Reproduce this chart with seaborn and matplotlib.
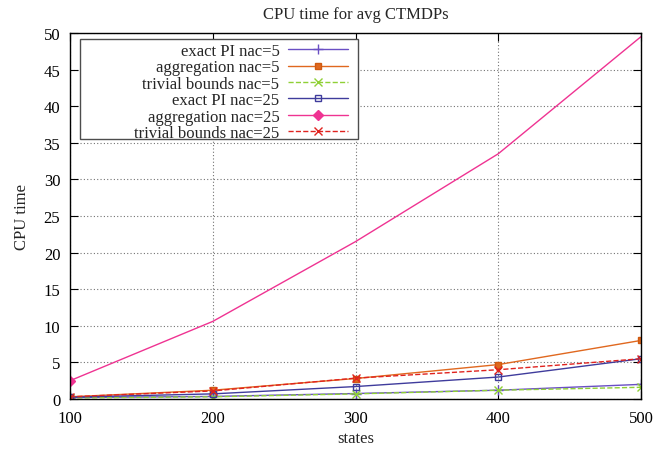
import pandas as pd
import seaborn as sns
import matplotlib.pyplot as plt
from matplotlib.patches import Rectangle

# data
states = [100, 200, 300, 400, 500]
exact_pi_5 = [0.2, 0.35, 0.75, 1.2, 2.0]
aggregation_5 = [0.3, 1.2, 2.8, 4.7, 8.0]
trivial_5 = [0.15, 0.3, 0.7, 1.2, 1.6]
exact_pi_25 = [0.25, 0.7, 1.7, 3.0, 5.5]
aggregation_25 = [2.5, 10.6, 21.5, 33.5, 49.5]
trivial_25 = [0.3, 1.1, 2.85, 4.0, 5.5]

series = [
    ("exact PI nac=5", exact_pi_5, "#6a4fc4", "-", "+", {"markersize": 7}),
    ("aggregation nac=5", aggregation_5, "#e0681f", "-", "s", {"markeredgecolor": "#d05a10"}),
    ("trivial bounds nac=5", trivial_5, "#8fd036", "--", "x", {"markersize": 5.5}),
    ("exact PI nac=25", exact_pi_25, "#3f3c9c", "-", "s", {"markerfacecolor": "none"}),
    ("aggregation nac=25", aggregation_25, "#ef3392", "-", "D", {"markersize": 5, "markevery": [0]}),
    ("trivial bounds nac=25", trivial_25, "#e0231f", "--", "x", {"markersize": 5.5}),
]

sns.set_style("ticks")
plt.rcParams['font.family'] = ['Liberation Serif', 'DejaVu Serif']
plt.rcParams['font.size'] = 12

fig = plt.figure(figsize=(6.54, 4.52), dpi=100)
ax = fig.add_axes([70 / 654, 52 / 452, 571 / 654, 366 / 452])

for name, vals, col, ls, mk, extra in series:
    df = pd.DataFrame({"states": states, "cpu": vals})
    kw = {"markersize": 5, "markeredgecolor": col, "markerfacecolor": col}
    kw.update(extra)
    sns.lineplot(data=df, x="states", y="cpu", ax=ax, color=col, linestyle=ls,
                 marker=mk, markeredgewidth=1.0, linewidth=1.0,
                 label=name, **kw)

ax.set_xlim(100, 500)
ax.set_ylim(0, 50)
ax.set_xticks(states)
ax.set_yticks(range(0, 51, 5))
ax.grid(True, linestyle=(0, (1, 2)), color="0.45", linewidth=0.8)
ax.tick_params(direction="in", top=True, right=True, length=6, width=0.8,
               labelsize=12, colors="black")
ax.tick_params(axis="x", pad=8)
ax.tick_params(axis="y", pad=7)
for s in ax.spines.values():
    s.set_color("black")
    s.set_linewidth(1.0)

ax.set_title("CPU time for avg CTMDPs", fontsize=12, pad=11)
ax.set_xlabel("states", fontsize=12, labelpad=3)
ax.set_ylabel("CPU time", fontsize=12, labelpad=10)

# legend: right-aligned labels, samples on the right, in a gnuplot-like wide box
leg = ax.legend(loc="upper right", bbox_to_anchor=((358 - 70 - 6) / 571, 1 - 6 / 366),
                markerfirst=False, frameon=False, fontsize=12,
                handlelength=3.6, handletextpad=0.5, labelspacing=0.02,
                borderpad=0.25, borderaxespad=0.0)
ax.add_patch(Rectangle((10 / 571, (400 - 140) / 366), 278 / 571, 100 / 366,
                       transform=ax.transAxes, facecolor="white", edgecolor="0.3",
                       linewidth=1.0, zorder=4.9))
leg.set_zorder(5)

fig.savefig("out.png", dpi=100, facecolor="white")
